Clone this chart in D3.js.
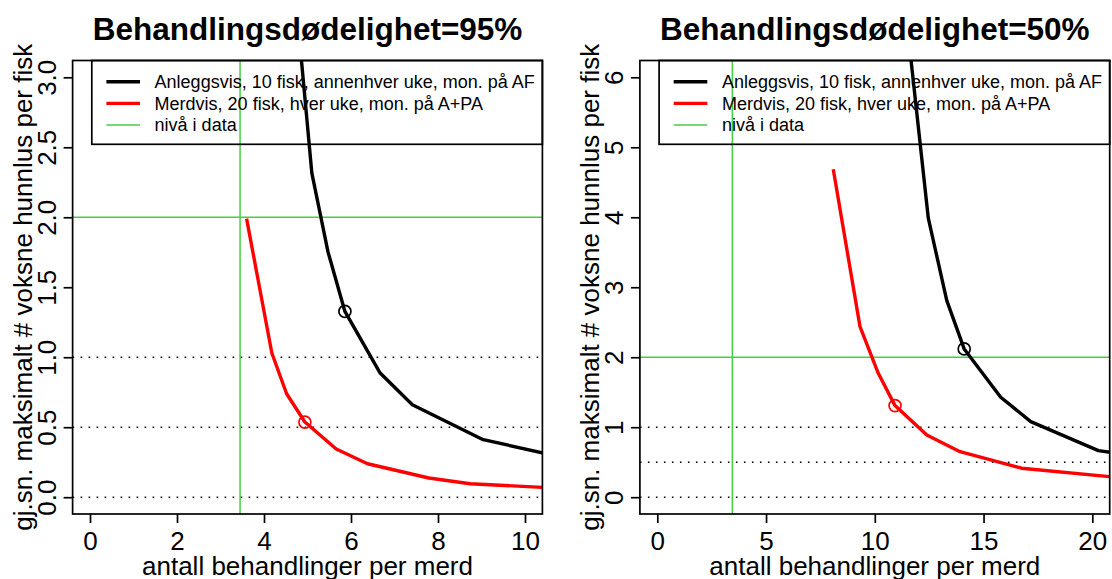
<!DOCTYPE html>
<html>
<head>
<meta charset="utf-8">
<script src="https://cdn.jsdelivr.net/npm/d3@7"></script>
<style>
  html, body { margin: 0; padding: 0; background: #ffffff; }
  svg { display: block; font-family: "Liberation Sans", Arial, Helvetica, sans-serif; }
</style>
</head>
<body>
<svg id="chart" width="1112" height="579"></svg>
<script>
// ---------------- data ----------------
const titles = ["Behandlingsdødelighet=95%", "Behandlingsdødelighet=50%"];
const xLabel = "antall behandlinger per merd";
const yLabel = "gj.sn. maksimalt # voksne hunnlus per fisk";
const legendLabels = [
  "Anleggsvis, 10 fisk, annenhver uke, mon. på AF",
  "Merdvis, 20 fisk, hver uke, mon. på A+PA",
  "nivå i data"
];

// Panel 1 (95 %)
const p1XTicks = [0, 2, 4, 6, 8, 10];
const p1YTicks = [0, 0.5, 1, 1.5, 2, 2.5, 3];
const p1YTickLabels = ["0.0", "0.5", "1.0", "1.5", "2.0", "2.5", "3.0"];
const p1BlackX = [4.60, 5.10, 5.47, 5.86, 6.67, 7.41, 9.04, 11.0];
const p1BlackY = [4.00, 2.316, 1.754, 1.327, 0.887, 0.661, 0.411, 0.276];
const p1RedX   = [3.60, 4.18, 4.52, 4.94, 5.66, 6.38, 7.79, 8.74, 10.4, 11.0];
const p1RedY   = [1.99, 1.030, 0.739, 0.537, 0.344, 0.239, 0.137, 0.096, 0.070, 0.066];
const p1BlackMark = [5.86, 1.327];
const p1RedMark   = [4.94, 0.537];
const p1Dotted = [0, 0.5, 1];

// Panel 2 (50 %)
const p2XTicks = [0, 5, 10, 15, 20];
const p2YTicks = [0, 1, 2, 3, 4, 5, 6];
const p2YTickLabels = ["0", "1", "2", "3", "4", "5", "6"];
const p2BlackX = [11.4, 12.46, 13.31, 14.11, 15.79, 17.17, 20.28, 21.3];
const p2BlackY = [7.0, 3.986, 2.809, 2.119, 1.429, 1.080, 0.666, 0.62];
const p2RedX   = [8.09, 9.32, 10.16, 10.93, 12.39, 13.92, 16.75, 20.78, 21.5];
const p2RedY   = [4.686, 2.437, 1.771, 1.309, 0.89, 0.651, 0.414, 0.294, 0.28];
const p2BlackMark = [14.11, 2.119];
const p2RedMark   = [10.93, 1.309];
const p2Dotted = [0, 0.5, 1];

// reference ("nivå i data") levels
const dataLevelX = 3.45;
const dataLevelY = 2.0;

// ---------------- drawing ----------------
const FONT = 26;
const GREEN = "#44cf44";
const svg = d3.select("#chart");

const panels = [
  { title: titles[0], xDom: [0, 10], yDom: [0, 3], xTicks: p1XTicks, yTicks: p1YTicks, yTickLabels: p1YTickLabels,
    black: d3.zip(p1BlackX, p1BlackY), red: d3.zip(p1RedX, p1RedY), bMark: p1BlackMark, rMark: p1RedMark,
    dotted: p1Dotted, x0: 72.6, x1: 542.4 },
  { title: titles[1], xDom: [0, 20], yDom: [0, 6], xTicks: p2XTicks, yTicks: p2YTicks, yTickLabels: p2YTickLabels,
    black: d3.zip(p2BlackX, p2BlackY), red: d3.zip(p2RedX, p2RedY), bMark: p2BlackMark, rMark: p2RedMark,
    dotted: p2Dotted, x0: 639.9, x1: 1109.7 }
];
const yTop = 60.5, yBot = 514;

panels.forEach((p, i) => {
  const ext = d => { const r = d[1] - d[0]; return [d[0] - 0.04 * r, d[1] + 0.04 * r]; };
  const x = d3.scaleLinear().domain(ext(p.xDom)).range([p.x0, p.x1]);
  const y = d3.scaleLinear().domain(ext(p.yDom)).range([yBot, yTop]);
  const g = svg.append("g");
  const clipId = "clip" + i;
  svg.append("clipPath").attr("id", clipId).append("rect")
    .attr("x", p.x0).attr("y", yTop).attr("width", p.x1 - p.x0).attr("height", yBot - yTop);
  const plot = g.append("g").attr("clip-path", `url(#${clipId})`);

  // dotted reference lines
  plot.selectAll(".dot").data(p.dotted).enter().append("line")
    .attr("x1", p.x0).attr("x2", p.x1).attr("y1", d => y(d)).attr("y2", d => y(d))
    .attr("stroke", "#000").attr("stroke-width", 1.6).attr("stroke-dasharray", "1.6,6.4");

  // green level lines
  plot.append("line").attr("x1", p.x0).attr("x2", p.x1)
    .attr("y1", y(dataLevelY)).attr("y2", y(dataLevelY))
    .attr("stroke", GREEN).attr("stroke-width", 1.5);
  plot.append("line").attr("x1", x(dataLevelX)).attr("x2", x(dataLevelX))
    .attr("y1", yTop).attr("y2", yBot)
    .attr("stroke", GREEN).attr("stroke-width", 1.5);

  const line = d3.line().x(d => x(d[0])).y(d => y(d[1]));
  plot.append("path").datum(p.black).attr("d", line)
    .attr("fill", "none").attr("stroke", "#000").attr("stroke-width", 3.4).attr("stroke-linejoin", "round");
  plot.append("path").datum(p.red).attr("d", line)
    .attr("fill", "none").attr("stroke", "#ff0000").attr("stroke-width", 3.4).attr("stroke-linejoin", "round");

  plot.append("circle").attr("cx", x(p.bMark[0])).attr("cy", y(p.bMark[1])).attr("r", 6)
    .attr("fill", "none").attr("stroke", "#000").attr("stroke-width", 1.7);
  plot.append("circle").attr("cx", x(p.rMark[0])).attr("cy", y(p.rMark[1])).attr("r", 6)
    .attr("fill", "none").attr("stroke", "#ff0000").attr("stroke-width", 1.7);

  // legend (top right)
  const lgW = 450.6, lgH = 83.8;
  const lx = p.x1 - lgW, ly = yTop;
  g.append("rect").attr("x", lx).attr("y", ly).attr("width", lgW).attr("height", lgH)
    .attr("fill", "none").attr("stroke", "#000").attr("stroke-width", 1.7);
  const lgColors = ["#000", "#ff0000", GREEN];
  const lgWidths = [3.4, 3.4, 1.6];
  legendLabels.forEach((t, k) => {
    const cy = ly + 21.2 + k * 21.65;
    g.append("line").attr("x1", lx + 14.6).attr("x2", lx + 48.2).attr("y1", cy).attr("y2", cy)
      .attr("stroke", lgColors[k]).attr("stroke-width", lgWidths[k]);
    g.append("text").attr("x", lx + 62.8).attr("y", cy).attr("dy", "0.35em")
      .attr("font-size", 18).attr("fill", "#000").text(t);
  });

  // box
  g.append("rect").attr("x", p.x0).attr("y", yTop).attr("width", p.x1 - p.x0).attr("height", yBot - yTop)
    .attr("fill", "none").attr("stroke", "#000").attr("stroke-width", 1.7);

  // x axis
  const xa = g.append("g").attr("transform", `translate(0,${yBot})`)
    .call(d3.axisBottom(x).tickValues(p.xTicks).tickSize(9).tickPadding(0).tickFormat(d3.format("d")));
  xa.select(".domain").remove();
  xa.selectAll(".tick line").attr("stroke", "#000").attr("stroke-width", 1.7);
  xa.selectAll(".tick text").attr("font-size", FONT).attr("font-family", null).attr("fill", "#000")
    .attr("y", 36).attr("dy", 0);

  // y axis
  const ya = g.append("g").attr("transform", `translate(${p.x0},0)`)
    .call(d3.axisLeft(y).tickValues(p.yTicks).tickSize(9).tickFormat((d, j) => p.yTickLabels[j]));
  ya.select(".domain").remove();
  ya.selectAll(".tick line").attr("stroke", "#000").attr("stroke-width", 1.7);
  ya.selectAll(".tick text").attr("font-size", FONT).attr("font-family", null).attr("fill", "#000")
    .attr("x", null).attr("dy", 0).attr("text-anchor", "middle")
    .attr("transform", "translate(-17,0) rotate(-90)");

  // titles
  const cx = (p.x0 + p.x1) / 2;
  g.append("text").attr("x", cx).attr("y", 40).attr("text-anchor", "middle")
    .attr("font-size", 31.5).attr("font-weight", "bold").text(p.title);
  g.append("text").attr("x", cx).attr("y", 575).attr("text-anchor", "middle")
    .attr("font-size", FONT).text(xLabel);
  g.append("text").attr("transform", `translate(${p.x0 - 41},${(yTop + yBot) / 2}) rotate(-90)`)
    .attr("text-anchor", "middle").attr("font-size", FONT).text(yLabel);
});
</script>
</body>
</html>
